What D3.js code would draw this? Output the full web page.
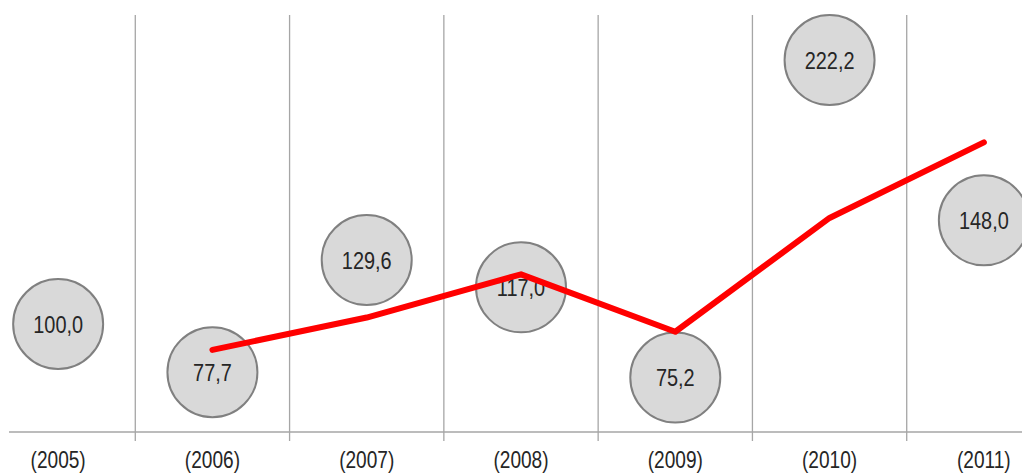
<!DOCTYPE html>
<html>
<head>
<meta charset="utf-8">
<script src="https://cdn.jsdelivr.net/npm/d3@7"></script>
<style>
  html, body { margin: 0; padding: 0; background: #ffffff; }
  svg { display: block; }
  text { font-family: "Liberation Sans Narrow", "Arial Narrow", "Liberation Sans", Arial, sans-serif; font-size: 24px; fill: #262626; }
</style>
</head>
<body>
<svg id="chart" width="1022" height="474"></svg>
<script>
// Years shown along the bottom
const years = ["2005", "2006", "2007", "2008", "2009", "2010", "2011"];
// Index values shown in the grey bubbles
const bubbleValues = [100.0, 77.7, 129.6, 117.0, 75.2, 222.2, 148.0];
// Red trend series (starts in 2006)
const lineYears = ["2006", "2007", "2008", "2009", "2010", "2011"];
const lineValues = [88.0, 103.0, 123.0, 96.4, 149.1, 184.1];

const svg = d3.select("#chart");
const W = 1022, H = 474;
const baseY = 432;
const narrow = 0.83; // horizontal condensing of the label face

const x = d3.scaleBand().domain(years).range([-19, 1061]).paddingInner(0).paddingOuter(0);
const y = d3.scaleLinear().domain([50, 250]).range([baseY, 0]);
const cx = d => x(d) + x.bandwidth() / 2;
const fmt = v => d3.format(".1f")(v).replace(".", ",");

// Vertical separators between the years
const bounds = years.slice(1).map(d => x(d));
svg.append("g").selectAll("line").data(bounds).join("line")
  .attr("x1", d => d).attr("x2", d => d)
  .attr("y1", 15).attr("y2", baseY + 9)
  .attr("stroke", "#a6a6a6").attr("stroke-width", 1.3);

// Category axis baseline
svg.append("line")
  .attr("x1", 9).attr("x2", W)
  .attr("y1", baseY).attr("y2", baseY)
  .attr("stroke", "#a6a6a6").attr("stroke-width", 1.3);

// Year labels
svg.append("g").selectAll("text").data(years).join("text")
  .attr("transform", d => `translate(${cx(d)},468) scale(${narrow},1)`)
  .attr("text-anchor", "middle")
  .style("font-size", "23px")
  .text(d => "(" + d + ")");

// Bubbles with their values
const bubbles = svg.append("g").selectAll("g").data(years.map((d, i) => ({ year: d, v: bubbleValues[i] })))
  .join("g")
  .attr("transform", d => `translate(${cx(d.year)},${y(d.v)})`);
bubbles.append("circle")
  .attr("r", 45)
  .attr("fill", "#d9d9d9")
  .attr("stroke", "#808080").attr("stroke-width", 2);
bubbles.append("text")
  .attr("text-anchor", "middle")
  .attr("transform", `translate(0,8.5) scale(${narrow},1)`)
  .text(d => fmt(d.v));

// Red trend line
const lineData = lineYears.map((d, i) => ({ year: d, v: lineValues[i] }));
svg.append("path")
  .datum(lineData)
  .attr("fill", "none")
  .attr("stroke", "#ff0000")
  .attr("stroke-width", 6)
  .attr("stroke-linecap", "round")
  .attr("stroke-linejoin", "round")
  .attr("d", d3.line().x(d => cx(d.year)).y(d => y(d.v)));
</script>
</body>
</html>
